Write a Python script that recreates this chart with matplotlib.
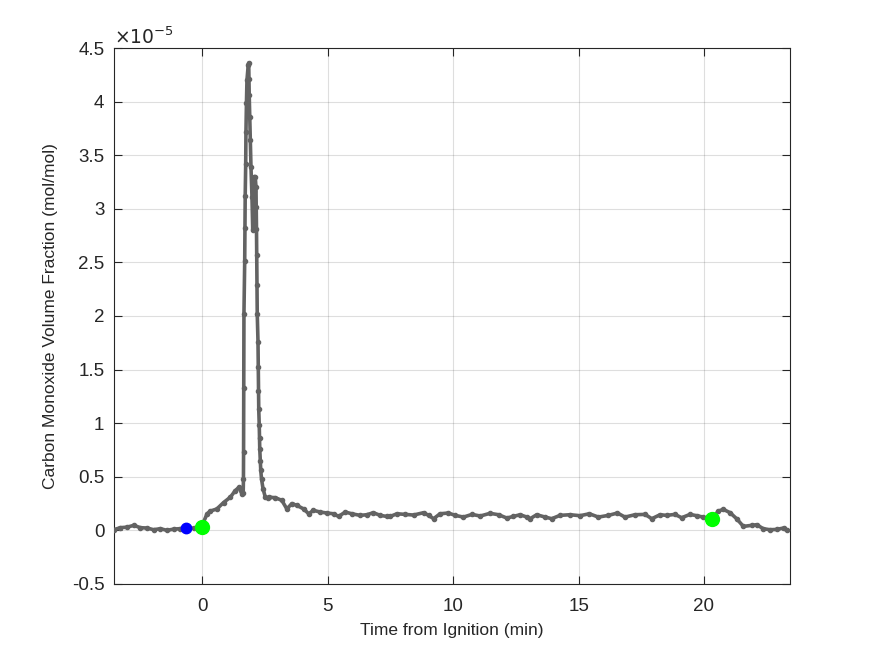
import numpy as np
import matplotlib
matplotlib.use("Agg")
import matplotlib.pyplot as plt
from matplotlib.ticker import FormatStrFormatter

# time from ignition (min) and CO volume fraction (x 1e-5 mol/mol)
t_min = [-3.53, -3.27, -3.00, -2.73, -2.47, -2.20, -1.94, -1.67, -1.41, -1.14, -0.88, -0.64,
         -0.35, -0.05, 0.19, 0.32, 0.58, 0.85, 1.12, 1.31, 1.45, 1.58, 1.63,
         1.64, 1.645, 1.65, 1.66, 1.69, 1.70, 1.71, 1.73, 1.74, 1.76, 1.78, 1.83, 1.85,
         1.86, 1.87, 1.89, 1.91, 1.94, 1.98, 2.01, 2.05, 2.07, 2.11, 2.14, 2.15, 2.16,
         2.17, 2.18, 2.19, 2.22, 2.23, 2.24, 2.25, 2.27, 2.28, 2.29, 2.31, 2.33, 2.36,
         2.42, 2.51, 2.60, 2.64, 2.91, 3.17, 3.37, 3.57, 3.77, 4.04, 4.24, 4.43, 4.70,
         4.97, 5.23, 5.43, 5.70, 5.96, 6.29, 6.56, 6.82, 7.09, 7.36, 7.49, 7.76, 8.09,
         8.42, 8.82, 9.02, 9.22, 9.48, 9.81, 10.08, 10.41, 10.75, 11.08, 11.47, 11.81,
         12.14, 12.40, 12.67, 12.94, 13.07, 13.33, 13.67, 13.93, 14.26, 14.66, 15.06,
         15.43, 15.79, 16.19, 16.55, 16.85, 17.25, 17.65, 17.92, 18.25, 18.51, 18.84,
         19.11, 19.44, 19.71, 19.97, 20.31, 20.57, 20.77, 21.04, 21.30, 21.57, 21.90,
         22.10, 22.36, 22.63, 22.90, 23.17, 23.30]
co_e5 = [0.006, 0.025, 0.030, 0.047, 0.025, 0.022, 0.006, 0.016, 0.000, 0.012, 0.016, 0.025,
         0.020, 0.022, 0.155, 0.180, 0.200, 0.260, 0.310, 0.370, 0.400, 0.340, 0.350,
         0.480, 0.730, 1.330, 2.020, 2.510, 2.820, 3.120, 3.420, 3.720, 3.990, 4.200, 4.340, 4.360,
         4.210, 4.060, 3.860, 3.640, 3.390, 3.110, 2.800, 3.170, 3.300, 3.300, 3.200, 3.020, 2.810,
         2.570, 2.290, 2.020, 1.760, 1.520, 1.300, 1.130, 0.980, 0.860, 0.760, 0.650, 0.560, 0.480,
         0.390, 0.310, 0.300, 0.310, 0.305, 0.280, 0.200, 0.250, 0.233, 0.200, 0.155, 0.187, 0.171,
         0.162, 0.155, 0.130, 0.171, 0.155, 0.140, 0.146, 0.165, 0.140, 0.130, 0.130, 0.155, 0.149,
         0.143, 0.165, 0.140, 0.109, 0.155, 0.162, 0.140, 0.124, 0.149, 0.134, 0.159, 0.146,
         0.115, 0.130, 0.146, 0.124, 0.109, 0.146, 0.124, 0.109, 0.140, 0.146, 0.137,
         0.155, 0.124, 0.140, 0.162, 0.124, 0.146, 0.149, 0.109, 0.146, 0.140, 0.149,
         0.118, 0.149, 0.137, 0.124, 0.103, 0.180, 0.196, 0.165, 0.109, 0.037, 0.047,
         0.053, 0.016, 0.006, 0.009, 0.022, 0.000]

# marked events: (time, value)
blue_pt = (-0.64, 0.025)
green_pts_t = [0.0, 20.31]
green_pts_v = [0.030, 0.103]

x_ticks = [0, 5, 10, 15, 20]
y_ticks = [-0.5, 0, 0.5, 1, 1.5, 2, 2.5, 3, 3.5, 4, 4.5]


def plot_co():
    plt.rcParams["font.family"] = ["Liberation Sans", "DejaVu Sans"]
    plt.rcParams["axes.unicode_minus"] = False
    fig = plt.figure(figsize=(8.75, 6.56), dpi=100)
    ax = fig.add_axes([0.1303, 0.1098, 0.7726, 0.817])

    ax.plot(t_min, co_e5, color="#636363", lw=2.6, marker="o", ms=3.0, zorder=3)
    ax.plot(blue_pt[0], blue_pt[1], "o", color="#0000ff", ms=7.5, zorder=4)
    ax.plot(green_pts_t, green_pts_v, "o", color="#00ff00", ms=10, ls="none", zorder=4)

    ax.set_xlim(-3.52, 23.43)
    ax.set_ylim(-0.5, 4.5)
    ax.set_xticks(x_ticks)
    ax.set_yticks(y_ticks)
    ax.yaxis.set_major_formatter(FormatStrFormatter("%g"))
    ax.grid(True, color="#262626", alpha=0.15, lw=0.8)
    ax.set_axisbelow(True)

    dark = "#262626"
    for sp in ax.spines.values():
        sp.set_color(dark)
        sp.set_linewidth(0.8)
    ax.tick_params(direction="in", top=True, right=True, length=6, width=0.8,
                   colors=dark, labelsize=13.5)
    ax.tick_params(axis="x", pad=10)
    ax.tick_params(axis="y", pad=7)

    ax.set_xlabel("Time from Ignition (min)", fontsize=12.5, color=dark, labelpad=6)
    ax.set_ylabel("Carbon Monoxide Volume Fraction (mol/mol)", fontsize=12.5, color=dark, labelpad=10)
    ax.text(0.0, 1.0, r"$\times10^{-5}$", transform=ax.transAxes, fontsize=13.5,
            color=dark, ha="left", va="bottom")

    fig.savefig("out.png", dpi=100)


if __name__ == "__main__":
    plot_co()
